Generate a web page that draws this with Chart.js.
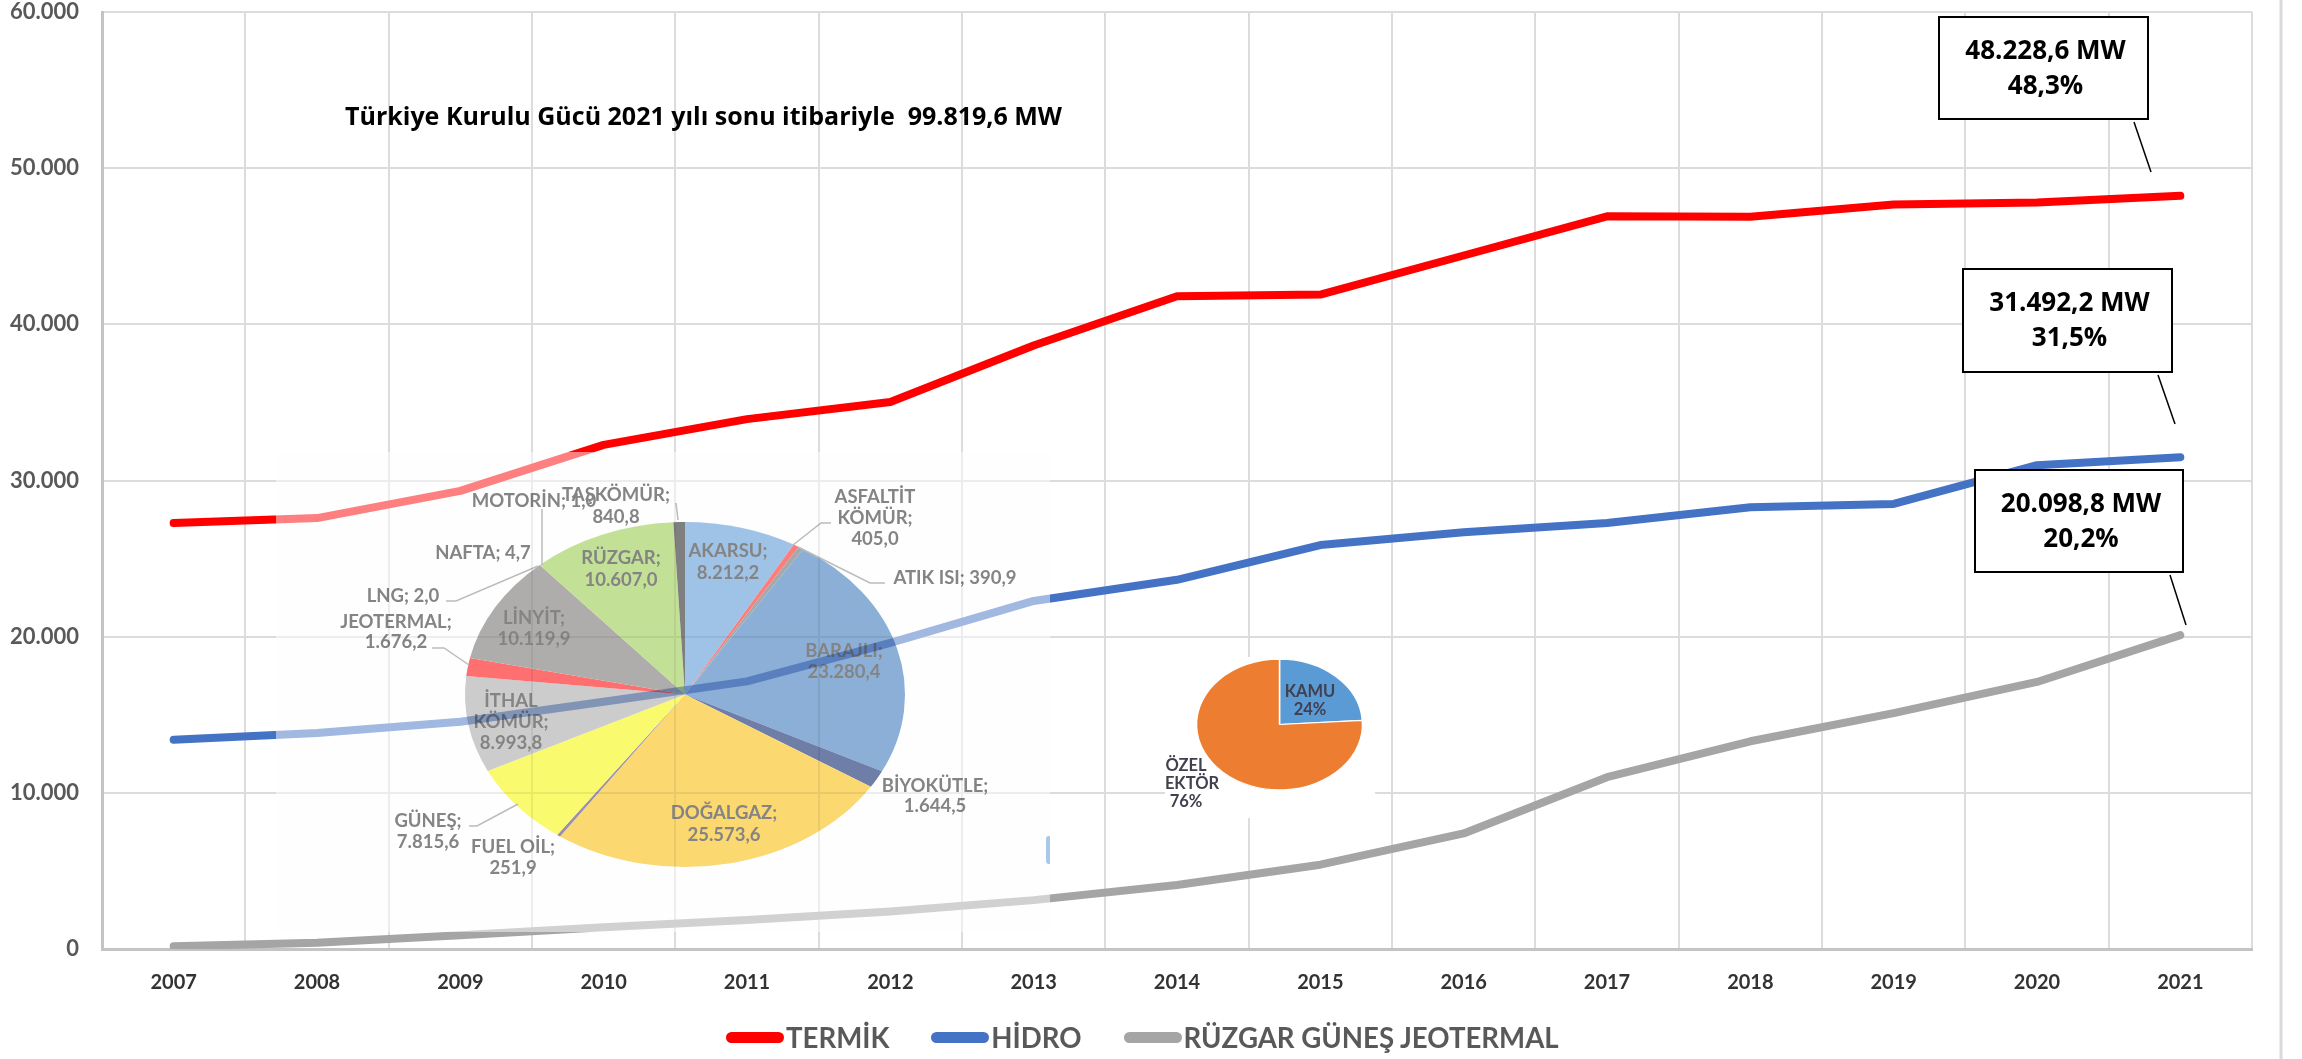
<!DOCTYPE html>
<html lang="tr">
<head>
<meta charset="utf-8">
<title>Türkiye Kurulu Gücü</title>
<script src="https://cdn.jsdelivr.net/npm/chart.js@4"></script>
<style>
  html, body { margin: 0; background: #fff; }
  #stage { position: relative; width: 2302px; height: 1059px; overflow: hidden; background: #fff; }
  #stage canvas { position: absolute; }
  #wash { position: absolute; left: 276px; top: 452px; width: 774px; height: 480px; background: rgba(253,253,253,0.5); }
  #wash2 { position: absolute; left: 1165px; top: 657px; width: 210px; height: 161px; background: #fff; }
  #sliver { position: absolute; left: 1046px; top: 836px; width: 4px; height: 28px; border-radius: 3px 0 0 3px; background: #a9c9e8; }
  #pieMain { left: 276px; top: 452px; mix-blend-mode: multiply; filter: blur(0.4px); }
  #pieOwner { left: 1165px; top: 657px; filter: blur(0.3px); }
  #legend { position: absolute; left: 726px; top: 1021px; display: flex; gap: 42px; align-items: center;
    font: bold 27.6px Lato, sans-serif; color: #595959; }
  .leg { display: flex; align-items: center; gap: 2px; white-space: nowrap; }
  .leg i { display: block; width: 58px; height: 11px; border-radius: 6px; }
</style>
</head>
<body>
<div id="stage">
  <canvas id="main"></canvas>
  <div id="wash"></div>
  <div id="wash2"></div>
  <div id="sliver"></div>
  <canvas id="pieMain"></canvas>
  <canvas id="pieOwner"></canvas>
  <div id="legend"></div>
</div>
<script>
const YEARS = ["2007","2008","2009","2010","2011","2012","2013","2014","2015","2016","2017","2018","2019","2020","2021"];
const TERMIK = [27271, 27595, 29339, 32279, 33931, 35027, 38648, 41802, 41903, 44407, 46918, 46883, 47668, 47800, 48228.6];
const HIDRO = [13395, 13829, 14553, 15831, 17137, 19609, 22289, 23643, 25868, 26681, 27273, 28291, 28503, 30984, 31492.2];
const RUZGAR = [170, 400, 880, 1400, 1850, 2400, 3130, 4100, 5400, 7400, 11000, 13300, 15100, 17100, 20098.8];

const PIE_NAMES = ["AKARSU","ASFALTİT KÖMÜR","ATIK ISI","BARAJLI","BİYOKÜTLE","DOĞALGAZ","FUEL OİL","GÜNEŞ","İTHAL KÖMÜR","JEOTERMAL","LİNYİT","LNG","MOTORİN","NAFTA","RÜZGAR","TAŞKÖMÜR"];
const PIE_VALUES = [8212.2, 405.0, 390.9, 23280.4, 1644.5, 25573.6, 251.9, 7815.6, 8993.8, 1676.2, 10119.9, 2.0, 1.0, 4.7, 10607.0, 840.8];
const PIE_COLORS = ["#a0c4e8","#ff7c7c","#a9a9a9","#8cb0d8","#6f7ea8","#fdd971","#9a8fb0","#fbfb6e","#cdcdcd","#ff7070","#b0aeac","#a0a0a0","#a0a0a0","#a0a0a0","#c3e197","#808080"];

const OWNER_NAMES = ["KAMU","ÖZEL SEKTÖR"];
const OWNER_VALUES = [24, 76];
const OWNER_COLORS = ["#5b9bd5","#ed7d31"];

const FONT = "Lato, sans-serif";

function fmtAxis(v) {
  return String(v).replace(/\B(?=(\d{3})+$)/g, ".");
}

// callout boxes, title and the outer frame line on the main canvas
const CALLOUTS = [
  { box: [1939, 17, 209, 102], text: ["48.228,6 MW", "48,3%"], lead: [2134, 122, 2151, 172] },
  { box: [1963, 269, 209, 103], text: ["31.492,2 MW", "31,5%"], lead: [2158, 375, 2175, 424] },
  { box: [1975, 470, 208, 102], text: ["20.098,8 MW", "20,2%"], lead: [2170, 575, 2186, 625] },
];

const annotations = {
  id: "annotations",
  afterDraw(chart) {
    const c = chart.ctx;
    c.save();
    c.strokeStyle = "#d9d9d9";
    c.lineWidth = 3;
    c.beginPath(); c.moveTo(2281, 0); c.lineTo(2281, 1059); c.stroke();

    c.fillStyle = "#000";
    c.font = "bold 25px 'Open Sans', sans-serif";
    c.textAlign = "left";
    c.textBaseline = "middle";
    c.fillText("Türkiye Kurulu Gücü 2021 yılı sonu itibariyle  99.819,6 MW", 345, 118);

    CALLOUTS.forEach(o => {
      const [x, y, w, h] = o.box;
      c.fillStyle = "#fff";
      c.fillRect(x, y, w, h);
      c.strokeStyle = "#000";
      c.lineWidth = 2;
      c.strokeRect(x, y, w, h);
      c.fillStyle = "#000";
      c.font = "bold 26px 'Open Sans', sans-serif";
      c.textAlign = "center";
      c.fillText(o.text[0], x + w / 2 + 2, y + 35);
      c.fillText(o.text[1], x + w / 2 + 2, y + 70);
      c.lineWidth = 1.5;
      c.beginPath(); c.moveTo(o.lead[0], o.lead[1]); c.lineTo(o.lead[2], o.lead[3]); c.stroke();
    });
    c.restore();
  }
};

const mainCanvas = document.getElementById("main");
mainCanvas.width = 2302;
mainCanvas.height = 1059;

const lineChart = new Chart(mainCanvas, {
  type: "line",
  data: {
    labels: YEARS,
    datasets: [
      { label: "TERMİK", data: TERMIK, borderColor: "#ff0000", backgroundColor: "#ff0000" },
      { label: "HİDRO", data: HIDRO, borderColor: "#4472c4", backgroundColor: "#4472c4" },
      { label: "RÜZGAR GÜNEŞ JEOTERMAL", data: RUZGAR, borderColor: "#a5a5a5", backgroundColor: "#a5a5a5" },
    ],
  },
  options: {
    responsive: false,
    animation: false,
    layout: { padding: { top: 12, right: 50, left: 0, bottom: 0 } },
    elements: {
      point: { radius: 0 },
      line: { borderWidth: 8, tension: 0, borderCapStyle: "round", borderJoinStyle: "round" },
    },
    plugins: { legend: { display: false }, tooltip: { enabled: false } },
    scales: {
      x: {
        offset: true,
        afterFit: s => { s.height = 110; },
        grid: { offset: true, color: "#dcdcdc", lineWidth: 2, drawTicks: false },
        border: { color: "#c4c4c4", width: 3 },
        ticks: { color: "#333", padding: 22, font: { family: FONT, size: 20, weight: "bold" }, maxRotation: 0 },
      },
      y: {
        min: 0, max: 60000,
        // tick padding would otherwise be added above the plot area
        afterFit: s => { s.width = 102; s.paddingTop = 0; s.paddingBottom = 0; },
        grid: { color: "#dcdcdc", lineWidth: 2, drawTicks: false },
        border: { color: "#c4c4c4", width: 3 },
        ticks: { stepSize: 10000, color: "#595959", padding: 23, font: { family: FONT, size: 22, weight: "bold" }, callback: fmtAxis },
      },
    },
  },
  plugins: [annotations],
});

// html legend from the datasets so the text gap matches the original
const legendBox = document.getElementById("legend");
lineChart.data.datasets.forEach(ds => {
  const item = document.createElement("div");
  item.className = "leg";
  item.innerHTML = `<i style="background:${ds.borderColor}"></i><span>${ds.label}</span>`;
  legendBox.appendChild(item);
});

// squash the arcs so the pies come out as ellipses like the pasted picture
function ellipsePlugin(k) {
  return {
    id: "ellipse",
    beforeDatasetsDraw(chart) {
      const { x, y } = chart.getDatasetMeta(0).data[0];
      chart.ctx.save();
      chart.ctx.translate(x, y);
      chart.ctx.scale(1, k);
      chart.ctx.translate(-x, -y);
    },
    afterDatasetsDraw(chart) { chart.ctx.restore(); },
  };
}

function textPlugin(items, leaders, font, color) {
  return {
    id: "texts",
    afterDraw(chart) {
      const c = chart.ctx;
      c.save();
      c.strokeStyle = "#bdbdbd";
      c.lineWidth = 1.5;
      leaders.forEach(pts => {
        c.beginPath();
        pts.forEach((p, i) => i ? c.lineTo(p[0], p[1]) : c.moveTo(p[0], p[1]));
        c.stroke();
      });
      c.fillStyle = color;
      c.font = font;
      c.textAlign = "center";
      c.textBaseline = "middle";
      items.forEach(t => {
        t.lines.forEach((s, i) => c.fillText(s, t.x, t.y + i * t.lh));
      });
      c.restore();
    },
  };
}

// label spots are relative to the overlay canvas at (276, 452)
const PIE_TEXTS = [
  { x: 340, y: 43, lh: 22, lines: ["TAŞKÖMÜR;", "840,8"] },
  { x: 258, y: 49, lh: 0, lines: ["MOTORİN; 1,0"] },
  { x: 599, y: 45, lh: 21, lines: ["ASFALTİT", "KÖMÜR;", "405,0"] },
  { x: 679, y: 126, lh: 0, lines: ["ATIK ISI; 390,9"] },
  { x: 452, y: 99, lh: 22, lines: ["AKARSU;", "8.212,2"] },
  { x: 345, y: 106, lh: 22, lines: ["RÜZGAR;", "10.607,0"] },
  { x: 207, y: 101, lh: 0, lines: ["NAFTA; 4,7"] },
  { x: 127, y: 144, lh: 0, lines: ["LNG; 2,0"] },
  { x: 120, y: 170, lh: 20, lines: ["JEOTERMAL;", "1.676,2"] },
  { x: 258, y: 166, lh: 21, lines: ["LİNYİT;", "10.119,9"] },
  { x: 568, y: 199, lh: 21, lines: ["BARAJLI;", "23.280,4"] },
  { x: 235, y: 249, lh: 21, lines: ["İTHAL", "KÖMÜR;", "8.993,8"] },
  { x: 659, y: 334, lh: 20, lines: ["BİYOKÜTLE;", "1.644,5"] },
  { x: 448, y: 361, lh: 22, lines: ["DOĞALGAZ;", "25.573,6"] },
  { x: 152, y: 369, lh: 21, lines: ["GÜNEŞ;", "7.815,6"] },
  { x: 237, y: 395, lh: 21, lines: ["FUEL OİL;", "251,9"] },
];
const PIE_LEADERS = [
  [[266, 57], [266, 113]],
  [[400, 51], [402, 68]],
  [[555, 71], [545, 71], [517, 93]],
  [[609, 131], [594, 131], [522, 95]],
  [[170, 149], [180, 149], [262, 114]],
  [[156, 196], [168, 196], [193, 213]],
  [[193, 374], [201, 374], [242, 352]],
];

const pieCanvas = document.getElementById("pieMain");
pieCanvas.width = 774;
pieCanvas.height = 480;
new Chart(pieCanvas, {
  type: "pie",
  data: {
    labels: PIE_NAMES,
    datasets: [{ data: PIE_VALUES, backgroundColor: PIE_COLORS, borderWidth: 0 }],
  },
  options: {
    responsive: false,
    animation: false,
    layout: { padding: { left: 44, top: 5 } },
    radius: 220,
    plugins: { legend: { display: false }, tooltip: { enabled: false } },
  },
  plugins: [ellipsePlugin(0.784), textPlugin(PIE_TEXTS, PIE_LEADERS, "bold 18.5px " + FONT, "#858585")],
});

const OWNER_TEXTS = [
  { x: 145, y: 35, lh: 18, lines: ["KAMU", "24%"] },
  { x: 21, y: 109, lh: 0, lines: ["ÖZEL"] },
  { x: 27, y: 127, lh: 0, lines: ["EKTÖR"] },
  { x: 21, y: 145, lh: 0, lines: ["76%"] },
];
const ownerCanvas = document.getElementById("pieOwner");
ownerCanvas.width = 210;
ownerCanvas.height = 161;
new Chart(ownerCanvas, {
  type: "pie",
  data: {
    labels: OWNER_NAMES,
    datasets: [{ data: OWNER_VALUES, backgroundColor: OWNER_COLORS, borderColor: "#fff", borderWidth: 1.5 }],
  },
  options: {
    responsive: false,
    animation: false,
    layout: { padding: { left: 19, bottom: 26 } },
    radius: 83,
    plugins: { legend: { display: false }, tooltip: { enabled: false } },
  },
  plugins: [ellipsePlugin(0.788), textPlugin(OWNER_TEXTS, [], "bold 16.5px " + FONT, "#404050")],
});
</script>
</body>
</html>
